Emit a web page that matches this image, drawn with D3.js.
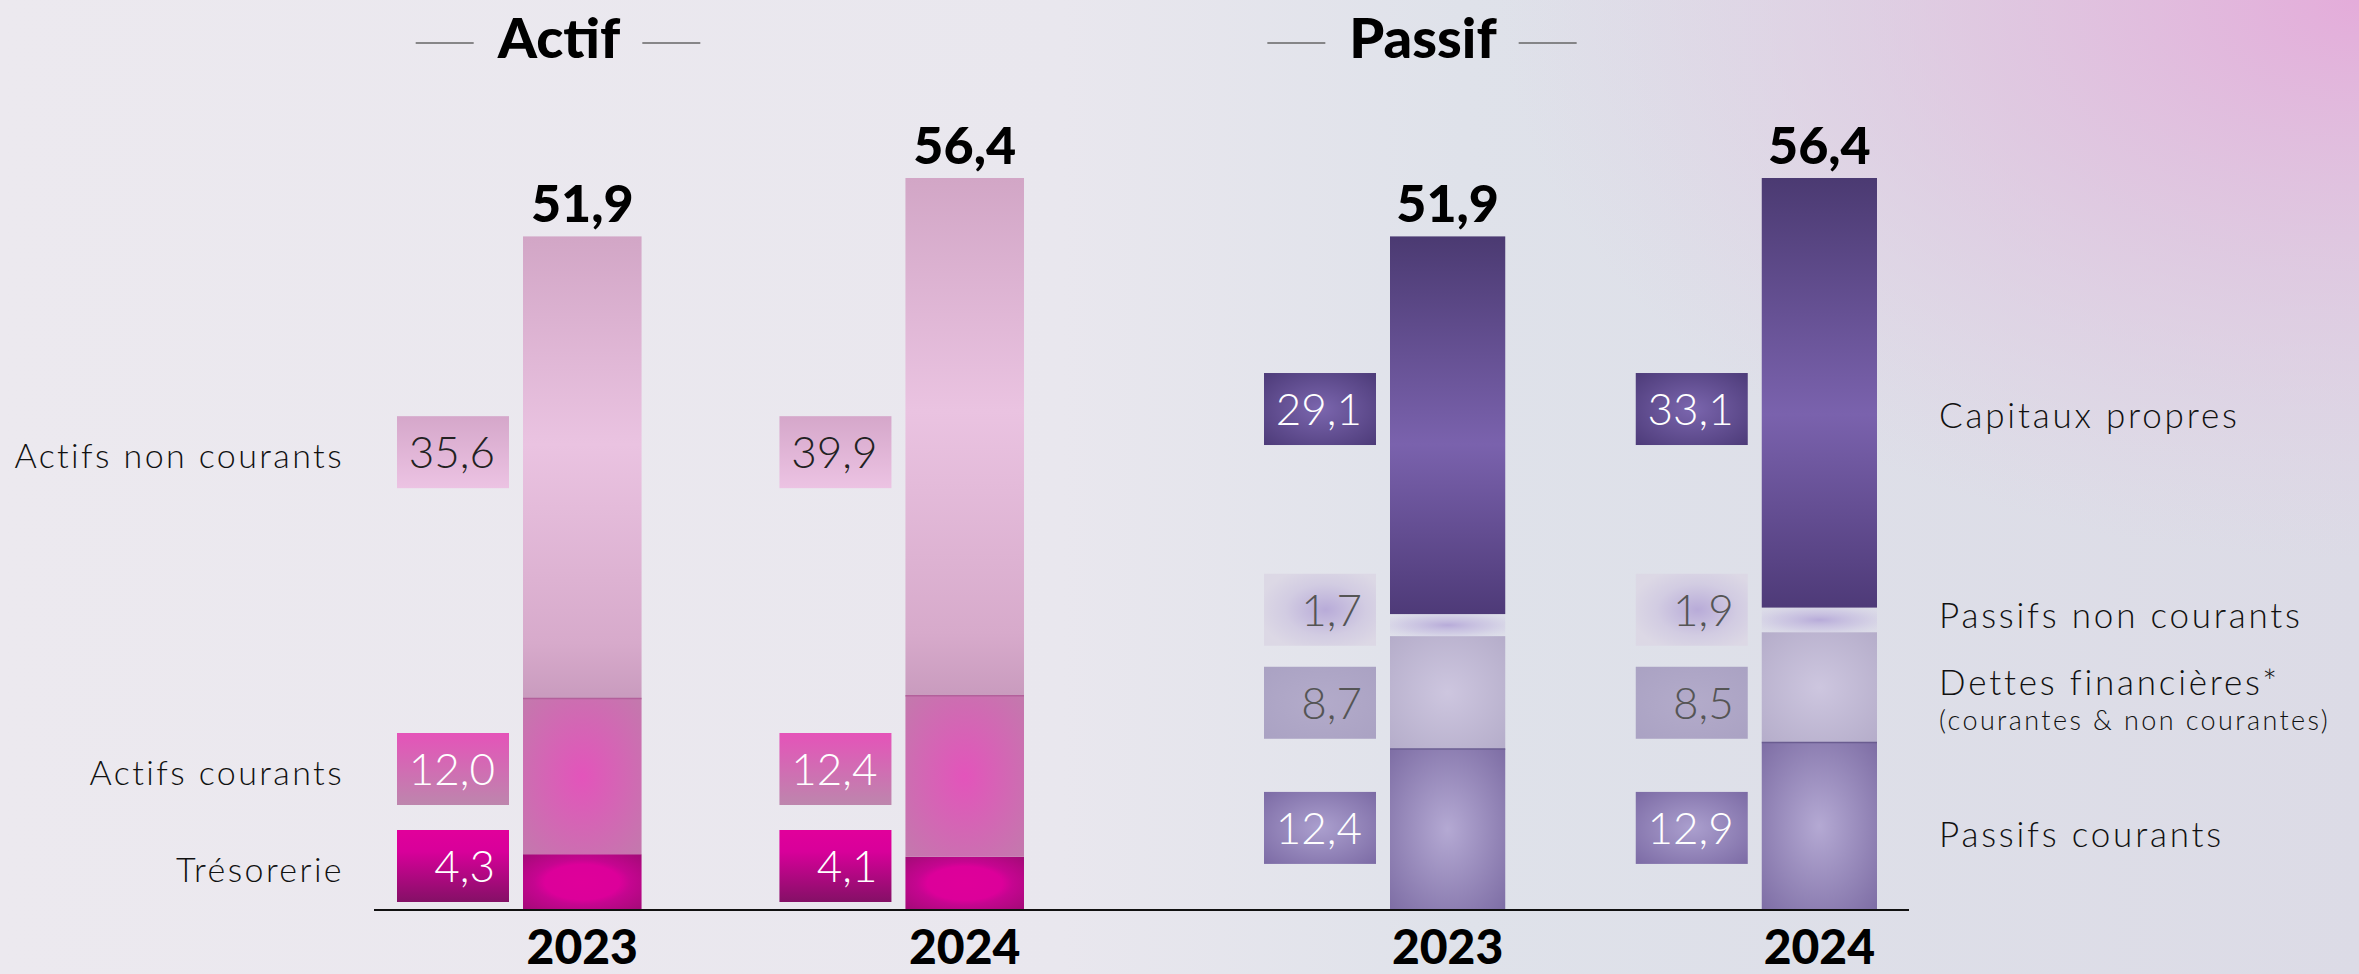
<!DOCTYPE html>
<html>
<head>
<meta charset="utf-8">
<script src="https://cdn.jsdelivr.net/npm/d3@7"></script>
<style>
  html, body { margin: 0; padding: 0; background: #ebe8ee; }
  svg { display: block; }
  .row-label { font-family: Lato, sans-serif; font-weight: 300; fill: #111; }
  .value { font-family: Lato, sans-serif; font-weight: 300; }
  .total, .year, .title { font-family: Lato, sans-serif; font-weight: 900; fill: #000; }
</style>
</head>
<body>
<svg id="chart"></svg>
<script>
const width = 2359;
const height = 974;

// data, stacked bottom-up
const years = ["2023", "2024"];
const totals = [51.9, 56.4];
const actifCategories = ["Trésorerie", "Actifs courants", "Actifs non courants"];
const actif2023 = [4.3, 12.0, 35.6];
const actif2024 = [4.1, 12.4, 39.9];
const passifCategories = ["Passifs courants", "Dettes financières*", "Passifs non courants", "Capitaux propres"];
const passif2023 = [12.4, 8.7, 1.7, 29.1];
const passif2024 = [12.9, 8.5, 1.9, 33.1];
const dettesNote = "(courantes & non courantes)";

const baseline = 910;
const boxW = 112, boxH = 72;
const fmt = v => d3.format(".1f")(v).replace(".", ",");

const svg = d3.select("#chart").attr("width", width).attr("height", height);
const defs = svg.append("defs");

function linear(id, stops, x2 = 0, y2 = 1) {
    const g = defs.append("linearGradient").attr("id", id)
        .attr("x1", 0).attr("y1", 0).attr("x2", x2).attr("y2", y2);
    stops.forEach(([o, c, op]) => g.append("stop").attr("offset", o).attr("stop-color", c)
        .attr("stop-opacity", op == null ? 1 : op));
}
function radial(id, stops, r = 0.6, cx = 0.5, cy = 0.5) {
    const g = defs.append("radialGradient").attr("id", id)
        .attr("cx", cx).attr("cy", cy).attr("r", r);
    stops.forEach(([o, c, op]) => g.append("stop").attr("offset", o).attr("stop-color", c)
        .attr("stop-opacity", op == null ? 1 : op));
}

// background
linear("bg", [[0, "#ece9ef"], [0.45, "#e9e7ee"], [0.62, "#dfe2ea"], [1, "#dcdbe6"]], 1, 0);
radial("bgPink", [[0, "#e4acda"], [0.45, "#e0c0de", 0.7], [1, "#e0cce2", 0]], 1, 1, 0);
svg.append("rect").attr("width", width).attr("height", height).attr("fill", "url(#bg)");
svg.append("rect").attr("x", 1500).attr("width", 859).attr("height", 560).attr("fill", "url(#bgPink)");

// styles per category
linear("aNcBar", [[0, "#d2a6c6"], [0.45, "#eac3e1"], [0.88, "#d7aacb"], [1, "#c99bbe"]]);
radial("aCBar", [[0, "#e354bb"], [1, "#c379ad"]], 0.7);
radial("aTBar", [[0, "#df009a"], [0.35, "#dc009a"], [0.45, "#c50590"], [1, "#8a0f66"]], 0.9);
linear("aNcBox", [[0, "#d5a7ca"], [1, "#ecc3e3"]]);
linear("aCBox", [[0, "#e553b9"], [1, "#bd86ad"]]);
linear("aTBox", [[0, "#e1009b"], [0.3, "#d8009a"], [1, "#841066"]]);
linear("pCpBar", [[0, "#4b3a72"], [0.55, "#7a62ad"], [1, "#4e3a78"]]);
radial("pPncBar", [[0, "#b5a8d8", 0.95], [0.5, "#c6bde0", 0.6], [1, "#d6d0e6", 0]], 0.75);
radial("pDBar", [[0, "#cdc6df"], [1, "#b5adca"]], 0.7);
radial("pCBar", [[0, "#b4a9d3"], [1, "#7e6ea5"]], 0.7);
radial("pCpBox", [[0, "#7b66ae"], [1, "#4d3b79"]], 0.7);
radial("pPncBox", [[0, "#b8abd8"], [0.6, "#d2cce2"], [1, "#dcd8e5"]], 0.6, 0.55, 0.5);
radial("pDBox", [[0, "#b3abca"], [1, "#aaa2c3"]], 0.7);
radial("pCBox", [[0, "#ab9fce"], [1, "#7c6ba5"]], 0.7);

const actifStyle = [
    { bar: "url(#aTBar)", box: "url(#aTBox)", text: "#fff" },
    { bar: "url(#aCBar)", box: "url(#aCBox)", text: "#fff", edge: "#b3609b" },
    { bar: "url(#aNcBar)", box: "url(#aNcBox)", text: "#222" }
];
const passifStyle = [
    { bar: "url(#pCBar)", box: "url(#pCBox)", text: "#fff", edge: "#6a5c90" },
    { bar: "url(#pDBar)", box: "url(#pDBox)", text: "#555" },
    { bar: "url(#pPncBar)", box: "url(#pPncBox)", text: "#555" },
    { bar: "url(#pCpBar)", box: "url(#pCpBox)", text: "#fff" }
];

const y = d3.scaleLinear().domain([0, d3.max(totals)]).range([baseline, 178]);

// spread label rows so boxes do not overlap, keep them above the baseline
function layoutRows(centers, gap) {
    const c = centers.slice();
    const maxC = baseline - 8 - boxH / 2;
    for (let it = 0; it < 60; it++) {
        c[0] = Math.min(c[0], maxC);
        for (let i = 1; i < c.length; i++) {
            const d = c[i - 1] - c[i];
            if (d < gap) { c[i - 1] += (gap - d) / 2; c[i] -= (gap - d) / 2; }
        }
    }
    c[0] = Math.min(c[0], maxC);
    return c;
}

function stackSegs(vals) {
    const stack = d3.cumsum(vals);
    return vals.map((v, i) => ({ v, i, y0: stack[i] - v, y1: stack[i] }));
}

function drawPanel(opts) {
    const x = d3.scaleBand().domain(years).range(opts.range).paddingInner(0.69);
    const g = svg.append("g");
    const allSegs = opts.series.map(stackSegs);
    const rows = layoutRows(opts.categories.map((c, i) =>
        d3.mean(allSegs, segs => (y(segs[i].y0) + y(segs[i].y1)) / 2)), opts.gap);

    allSegs.forEach((segs, yi) => {
        const yr = years[yi];
        const bx = x(yr), bw = x.bandwidth();

        g.selectAll(null).data(segs).enter().append("rect")
            .attr("x", bx).attr("width", bw)
            .attr("y", d => y(d.y1)).attr("height", d => y(d.y0) - y(d.y1))
            .attr("fill", d => opts.style[d.i].bar);
        g.selectAll(null).data(segs.filter(d => opts.style[d.i].edge)).enter().append("line")
            .attr("x1", bx).attr("x2", bx + bw)
            .attr("y1", d => y(d.y1)).attr("y2", d => y(d.y1))
            .attr("stroke", d => opts.style[d.i].edge).attr("stroke-width", 1.5);

        const boxes = g.selectAll(null).data(segs).enter().append("g")
            .attr("transform", d => `translate(${bx - 126},${rows[d.i] - boxH / 2})`);
        boxes.append("rect").attr("width", boxW).attr("height", boxH)
            .attr("fill", d => opts.style[d.i].box);
        boxes.append("text").attr("class", "value")
            .attr("x", boxW - 14).attr("y", boxH / 2).attr("dy", "0.36em")
            .attr("text-anchor", "end").attr("font-size", 44)
            .attr("fill", d => opts.style[d.i].text)
            .text(d => fmt(d.v));

        g.append("text").attr("class", "total")
            .attr("x", bx + bw / 2).attr("y", y(totals[yi]) - 14)
            .attr("text-anchor", "middle").attr("font-size", 52)
            .text(fmt(totals[yi]));
        g.append("text").attr("class", "year")
            .attr("x", bx + bw / 2).attr("y", 964)
            .attr("text-anchor", "middle").attr("font-size", 48)
            .text(yr);
    });

    // title with side rules
    const tx = opts.titleX;
    const title = g.append("text").attr("class", "title").attr("x", tx).attr("y", 58)
        .attr("text-anchor", "middle").attr("font-size", 56).text(opts.title);
    const half = title.node().getComputedTextLength() / 2;
    [[-half - 82, -half - 24], [half + 22, half + 80]].forEach(([a, b]) => g.append("line")
        .attr("x1", tx + a).attr("x2", tx + b).attr("y1", 43).attr("y2", 43)
        .attr("stroke", "#666").attr("stroke-width", 1.5));

    return rows;
}

const actifRows = drawPanel({
    title: "Actif", titleX: 559, range: [523, 1024], gap: 97,
    categories: actifCategories, series: [actif2023, actif2024], style: actifStyle
});
const passifRows = drawPanel({
    title: "Passif", titleX: 1423, range: [1390, 1877], gap: 93,
    categories: passifCategories, series: [passif2023, passif2024], style: passifStyle
});

// baseline
svg.append("line").attr("x1", 374).attr("x2", 1909).attr("y1", baseline).attr("y2", baseline)
    .attr("stroke", "#111").attr("stroke-width", 2);

// row labels
svg.selectAll(null).data(actifCategories).enter().append("text")
    .attr("class", "row-label").attr("x", 344).attr("text-anchor", "end")
    .attr("y", (d, i) => actifRows[i] + 4).attr("dy", "0.36em").attr("font-size", 34)
    .attr("letter-spacing", 2.4)
    .text(d => d);
svg.selectAll(null).data(passifCategories).enter().append("text")
    .attr("class", "row-label").attr("x", 1939)
    .attr("y", (d, i) => passifRows[i] + (i === 1 ? -20 : 6)).attr("dy", "0.36em").attr("font-size", 35)
    .attr("letter-spacing", 2.8)
    .text(d => d);
svg.append("text").attr("class", "row-label").attr("x", 1939)
    .attr("y", passifRows[1] + 18).attr("dy", "0.36em").attr("font-size", 27)
    .attr("letter-spacing", 2.4)
    .text(dettesNote);
</script>
</body>
</html>
